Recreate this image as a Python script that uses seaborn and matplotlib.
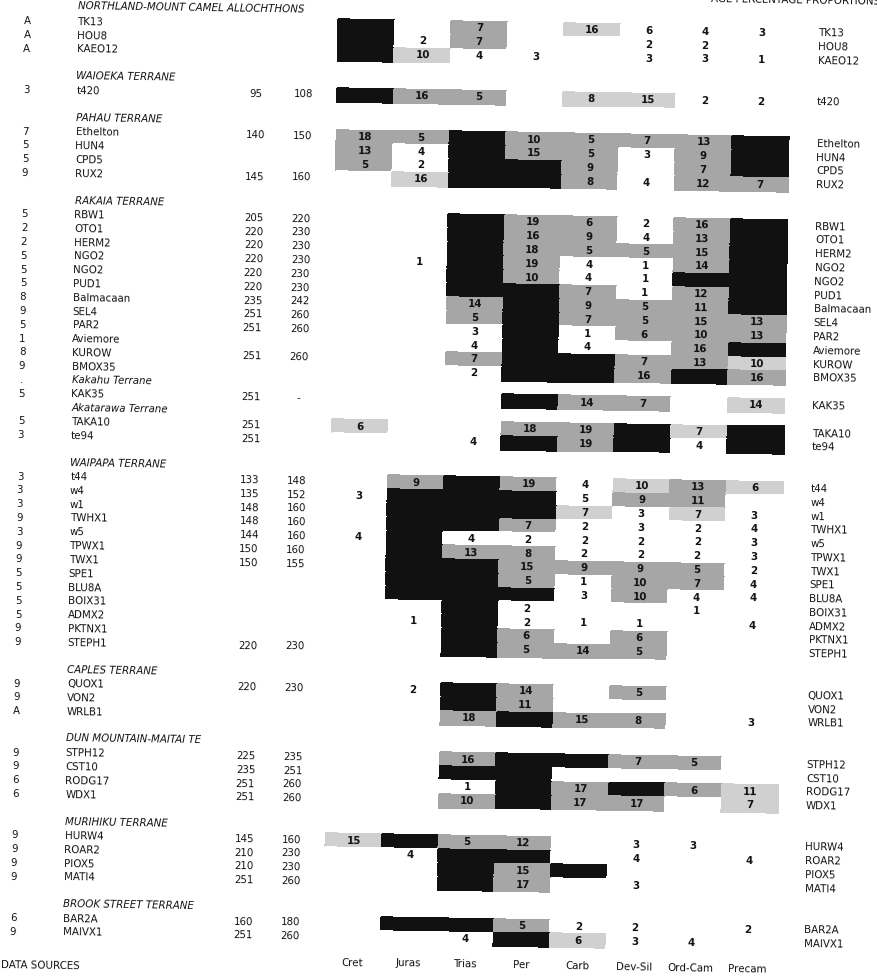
import numpy as np
import pandas as pd
import matplotlib
matplotlib.use("Agg")
import matplotlib.pyplot as plt
import seaborn as sns
from matplotlib.colors import ListedColormap
from matplotlib.transforms import Affine2D

# ---------------- data ----------------
TERRANES = ["NORTHLAND-MOUNT CAMEL ALLOCHTHONS", "WAIOEKA TERRANE", "PAHAU TERRANE",
            "RAKAIA TERRANE", "WAIPAPA TERRANE", "CAPLES TERRANE",
            "DUN MOUNTAIN-MAITAI TE", "MURIHIKU TERRANE", "BROOK STREET TERRANE"]
GROUP_SIZES = [3, 1, 4, 15, 13, 3, 4, 4, 2]
SUBHEADERS = {12: "Kakahu Terrane", 13: "Akatarawa Terrane"}   # inside Rakaia group
SUB_SOURCES = {"Kakahu Terrane": ".", "Akatarawa Terrane": ""}

SAMPLES = ["TK13", "HOU8", "KAEO12",
           "t420",
           "Ethelton", "HUN4", "CPD5", "RUX2",
           "RBW1", "OTO1", "HERM2", "NGO2", "NGO2", "PUD1", "Balmacaan", "SEL4", "PAR2",
           "Aviemore", "KUROW", "BMOX35", "KAK35", "TAKA10", "te94",
           "t44", "w4", "w1", "TWHX1", "w5", "TPWX1", "TWX1", "SPE1", "BLU8A", "BOIX31",
           "ADMX2", "PKTNX1", "STEPH1",
           "QUOX1", "VON2", "WRLB1",
           "STPH12", "CST10", "RODG17", "WDX1",
           "HURW4", "ROAR2", "PIOX5", "MATI4",
           "BAR2A", "MAIVX1"]
SOURCES = ["A", "A", "A",
           "3",
           "7", "5", "5", "9",
           "5", "2", "2", "5", "5", "5", "8", "9", "5", "1", "8", "9", "5", "5", "3",
           "3", "3", "3", "9", "3", "9", "9", "5", "5", "5", "5", "9", "9",
           "9", "9", "A",
           "9", "9", "6", "6",
           "9", "9", "9", "9",
           "6", "9"]
AGE_MIN = ["", "", "",
           "95",
           "140", "", "", "145",
           "205", "220", "220", "220", "220", "220", "235", "251", "251", "", "251", "", "251", "251", "251",
           "133", "135", "148", "148", "144", "150", "150", "", "", "", "", "", "220",
           "220", "", "",
           "225", "235", "251", "251",
           "145", "210", "210", "251",
           "160", "251"]
AGE_MAX = ["", "", "",
           "108",
           "150", "", "", "160",
           "220", "230", "230", "230", "230", "230", "242", "260", "260", "", "260", "", "-", "", "",
           "148", "152", "160", "160", "160", "160", "155", "", "", "", "", "", "230",
           "230", "", "",
           "235", "251", "260", "260",
           "160", "230", "230", "260",
           "180", "260"]

PERIODS = ["Cret", "Juras", "Trias", "Per", "Carb", "Dev-Sil", "Ord-Cam", "Precam"]

# cell code per period: "." empty, "B" black, "H<n>" grey hatch, "L<n>" light hatch, "<n>" plain number
CELLS = [
    "B . H7 . L16 6 4 3",
    "B 2 H7 . . 2 2 .",
    "B L10 4 3 . 3 3 1",
    "B H16 H5 . L8 L15 2 2",
    "H18 H5 B H10 H5 H7 H13 B",
    "H13 4 B H15 H5 3 H9 B",
    "H5 2 B B H9 . H7 B",
    ". L16 B B H8 4 H12 H7",
    ". . B H19 H6 2 H16 B",
    ". . B H16 H9 4 H13 B",
    ". . B H18 H5 H5 H15 B",
    ". 1 B H19 4 1 H14 B",
    ". . B H10 4 1 B B",
    ". . B B H7 1 H12 B",
    ". . H14 B H9 H5 H11 B",
    ". . H5 B H7 H5 H15 H13",
    ". . 3 B 1 H6 H10 H13",
    ". . 4 B 4 . H16 B",
    ". . H7 B B H7 H13 L10",
    ". . 2 B B H16 B H16",
    ". . . B H14 H7 . L14",
    "L6 . . H18 H19 B L7 B",
    ". . 4 B H19 B 4 B",
    ". H9 B H19 4 L10 H13 L6",
    "3 B B B 5 H9 H11 .",
    ". B B B L7 3 L7 3",
    ". B B H7 2 3 2 4",
    "4 B 4 2 2 2 2 3",
    ". B H13 H8 2 2 2 3",
    ". B B H15 H9 H9 H5 2",
    ". B B H5 1 H10 H7 4",
    ". B B B 3 H10 4 4",
    ". . B 2 . . 1 .",
    ". 1 B 2 1 1 . 4",
    ". . B H6 . H6 . .",
    ". . B H5 H14 H5 . .",
    ". 2 B H14 . H5 . .",
    ". . B H11 . . . .",
    ". . H18 B H15 H8 . 3",
    ". . H16 B B H7 H5 .",
    ". . B B . . . .",
    ". . 1 B H17 B H6 L11",
    ". . H10 B H17 H17 . L7",
    "L15 B H5 H12 . 3 3 .",
    ". 4 B B . 4 . 4",
    ". . B H15 B . . .",
    ". . B H17 . 3 . .",
    ". B B H5 2 2 . 2",
    ". . 4 B L6 3 4 .",
]

TITLE_RIGHT = "AGE PERCENTAGE PROPORTIONS"
FOOTER = "DATA SOURCES"

# ---------------- layout (pixels) ----------------
W, H = 878, 980
Y0, LH = 14.0, 13.8           # line 0 centre, line height
X_SRC, X_NAME, X_AGE1, X_AGE2 = 20, 70, 250, 297
GX0, CW = 331, 56.5           # grid left edge, column width
X_RIGHT = 811
Y_BOTTOM = 964
ROT_DEG = 0.9                 # scan skew
FS = 7.4

sns.set_style("white")
plt.rcParams["font.family"] = ["DejaVu Sans"]

# build line structure
lines = []
si = 0
for g, (tname, n) in enumerate(zip(TERRANES, GROUP_SIZES)):
    if g > 0:
        lines.append(("blank", None))
    lines.append(("header", tname))
    for k in range(n):
        if g == 3 and k in SUBHEADERS:
            lines.append(("sub", SUBHEADERS[k]))
        lines.append(("row", si))
        si += 1
NL = len(lines)

shade = np.full((NL, len(PERIODS)), np.nan)
labels = np.full((NL, len(PERIODS)), "", dtype=object)
for li, (kind, val) in enumerate(lines):
    if kind != "row":
        continue
    for j, code in enumerate(CELLS[val].split()):
        if code == ".":
            shade[li, j] = 0
        elif code == "B":
            shade[li, j] = 3
        elif code[0] == "H":
            shade[li, j] = 2
            labels[li, j] = code[1:]
        elif code[0] == "L":
            shade[li, j] = 1
            labels[li, j] = code[1:]
        else:
            shade[li, j] = 0
            labels[li, j] = code

df = pd.DataFrame(shade, columns=PERIODS)

fig = plt.figure(figsize=(W / 100, H / 100), dpi=100)
ax = fig.add_axes([0, 0, 1, 1])
ax.set_xlim(0, W)
ax.set_ylim(H, 0)
ax.axis("off")

gtop = Y0 - 0.5 * LH
gax = fig.add_axes([GX0 / W, 1 - (gtop + NL * LH) / H, len(PERIODS) * CW / W, NL * LH / H])
cmap = ListedColormap(["#ffffff", "#d0d0d0", "#a6a6a6", "#111111"])
sns.heatmap(df, ax=gax, cmap=cmap, vmin=-0.5, vmax=3.5, cbar=False,
            annot=labels, fmt="", linewidths=0,
            annot_kws=dict(fontsize=7.4, fontweight="bold", color="#111111"),
            xticklabels=False, yticklabels=False)
gax.axis("off")
for mesh in gax.collections:
    mesh.set_edgecolor("face")
    mesh.set_linewidth(0.3)

txt = dict(fontsize=FS, color="#111111", va="center")
for li, (kind, val) in enumerate(lines):
    y = Y0 + li * LH
    if kind == "header":
        ax.text(X_NAME, y, val, style="italic", ha="left", **txt)
    elif kind == "sub":
        ax.text(X_NAME, y, val, style="italic", ha="left", **txt)
        if SUB_SOURCES[val]:
            ax.text(X_SRC, y, SUB_SOURCES[val], ha="center", **txt)
    elif kind == "row":
        ax.text(X_SRC, y, SOURCES[val], ha="center", **txt)
        ax.text(X_NAME, y, SAMPLES[val], ha="left", **txt)
        ax.text(X_AGE1, y, AGE_MIN[val], ha="center", **txt)
        ax.text(X_AGE2, y, AGE_MAX[val], ha="center", **txt)
        ax.text(X_RIGHT, y, SAMPLES[val], ha="left", **txt)

for j, p in enumerate(PERIODS):
    ax.text(GX0 + (j + 0.5) * CW, Y_BOTTOM, p, ha="center", **txt)
ax.text(8, Y_BOTTOM + 8, FOOTER, ha="left", **txt)
ax.text(872, -7, TITLE_RIGHT, ha="right", **txt)

# apply the slight clockwise skew of the scanned original
rot = Affine2D().rotate_deg_around(440, H - 490, -ROT_DEG)
for art in list(ax.texts) + list(gax.texts) + list(gax.collections):
    art.set_transform(art.get_transform() + rot)
    art.set_clip_on(False)
    if hasattr(art, "set_transform_rotates_text"):
        art.set_transform_rotates_text(True)

fig.savefig("out.png", dpi=100)
